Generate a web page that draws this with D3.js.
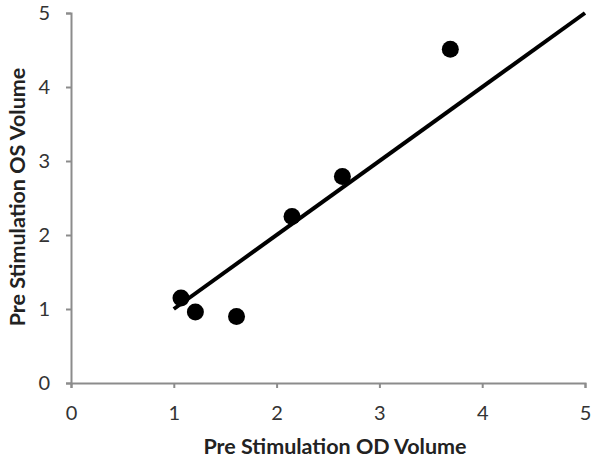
<!DOCTYPE html>
<html><head><meta charset="utf-8">
<script src="https://cdn.jsdelivr.net/npm/d3@7"></script>
<style>body{margin:0;background:#fff;} svg{display:block;font-family:Lato,"Open Sans",sans-serif;}</style>
</head><body>
<svg id="c" width="601" height="468"></svg>
<script>
const odVolume = [1.07, 1.21, 1.61, 2.15, 2.64, 3.69];
const osVolume = [1.15, 0.96, 0.90, 2.25, 2.79, 4.51];
const trendX = [1, 5];
const trendY = [1, 5];
const ticks = [0, 1, 2, 3, 4, 5];
const xTitle = "Pre Stimulation OD Volume";
const yTitle = "Pre Stimulation OS Volume";

const svg = d3.select("#c");
const x = d3.scaleLinear().domain([0, 5]).range([71, 585]);
const y = d3.scaleLinear().domain([0, 5]).range([383, 13]);

const xAxis = svg.append("g").attr("transform", `translate(0,${y(0)})`)
  .call(d3.axisBottom(x).tickValues(ticks).tickSize(5).tickPadding(18).tickFormat(d3.format("d")));
const yAxis = svg.append("g").attr("transform", `translate(${x(0)},0)`)
  .call(d3.axisLeft(y).tickValues(ticks).tickSize(5).tickPadding(16).tickFormat(d3.format("d")));
[xAxis, yAxis].forEach(a => {
  a.select(".domain").attr("stroke", "#8c8c8c").attr("stroke-width", 2);
  a.selectAll(".tick line").attr("stroke", "#8c8c8c").attr("stroke-width", 2);
  a.selectAll(".tick text").attr("fill", "#333").style("font-size", "20px").style("font-family", "Lato, 'Open Sans', sans-serif");
});

svg.append("line")
  .attr("x1", x(trendX[0])).attr("y1", y(trendY[0]))
  .attr("x2", x(trendX[1])).attr("y2", y(trendY[1]))
  .attr("stroke", "#000").attr("stroke-width", 4);

svg.append("g").selectAll("circle").data(odVolume).join("circle")
  .attr("cx", (d) => x(d)).attr("cy", (d, i) => y(osVolume[i]))
  .attr("r", 8.5).attr("fill", "#000");

svg.append("text").attr("x", 335).attr("y", 454).attr("text-anchor", "middle")
  .attr("font-weight", "bold").attr("font-size", 21.5).attr("fill", "#222").text(xTitle);
svg.append("text").attr("transform", "translate(25,197) rotate(-90)").attr("text-anchor", "middle")
  .attr("font-weight", "bold").attr("font-size", 21.5).attr("fill", "#222").text(yTitle);
</script>
</body></html>
